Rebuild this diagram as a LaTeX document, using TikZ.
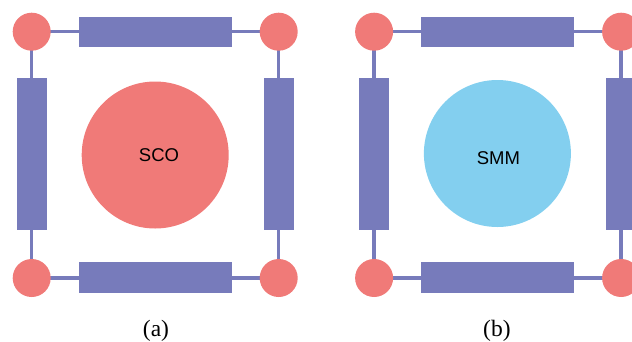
\documentclass[tikz,border=0pt]{standalone}
\usepackage{fontspec}
\setmainfont{Liberation Serif}
\setsansfont{Liberation Sans}
\definecolor{nodered}{RGB}{240,122,120}
\definecolor{barblue}{RGB}{119,123,187}
\definecolor{skyblue}{RGB}{131,207,239}
\tikzset{
  corner/.style={circle,fill=nodered,minimum size=38pt,inner sep=0pt},
  hbar/.style={rectangle,fill=barblue,minimum width=153pt,minimum height=30.5pt,inner sep=0pt},
  vbar/.style={rectangle,fill=barblue,minimum width=30pt,minimum height=152.5pt,inner sep=0pt},
  link/.style={draw=barblue,line width=3.5pt},
  core/.style={circle,minimum size=147pt,inner sep=0pt},
  coretext/.style={font=\sffamily\fontsize{18.5}{20}\selectfont},
  caption/.style={font=\fontsize{23.5}{26}\selectfont}
}
\begin{document}
\begin{tikzpicture}[x=1pt,y=-1pt]
\useasboundingbox (0,0) rectangle (632,341);
% panel (a)
\begin{scope}
\coordinate (a1) at (31.7,31.7);
\coordinate (a2) at (278.7,31.7);
\coordinate (a3) at (278.7,278);
\coordinate (a4) at (31.7,278);
\draw[link] (a1) -- (a2) -- (a3) -- (a4) -- cycle;
\node[hbar] (atop) at (155,32) {};
\node[hbar] (abot) at (155,277.5) {};
\node[vbar] (aleft) at (31.7,153.8) {};
\node[vbar] (aright) at (279,153.8) {};
\node[corner] (c1) at (a1) {};
\node[corner] (c2) at (a2) {};
\node[corner] (c3) at (a3) {};
\node[corner] (c4) at (a4) {};
\node[core,fill=nodered] (sco) at (155.2,155) {};
\node[coretext] (scot) at (159,155) {SCO};
\node[caption,anchor=base] (capa) at (156,336) {(a)};
\end{scope}
% panel (b)
\begin{scope}[xshift=342.4pt]
\coordinate (b1) at (31.7,31.7);
\coordinate (b2) at (278.7,31.7);
\coordinate (b3) at (278.7,278);
\coordinate (b4) at (31.7,278);
\draw[link] (b1) -- (b2) -- (b3) -- (b4) -- cycle;
\node[hbar] (btop) at (155,32) {};
\node[hbar] (bbot) at (155,277.5) {};
\node[vbar] (bleft) at (31.7,153.8) {};
\node[vbar] (bright) at (279,153.8) {};
\node[corner] (d1) at (b1) {};
\node[corner] (d2) at (b2) {};
\node[corner] (d3) at (b3) {};
\node[corner] (d4) at (b4) {};
\node[core,fill=skyblue] (smm) at (155,153.5) {};
\node[coretext] (smmt) at (156,158) {SMM};
\node[caption,anchor=base] (capb) at (154.5,336) {(b)};
\end{scope}
\end{tikzpicture}
\end{document}
